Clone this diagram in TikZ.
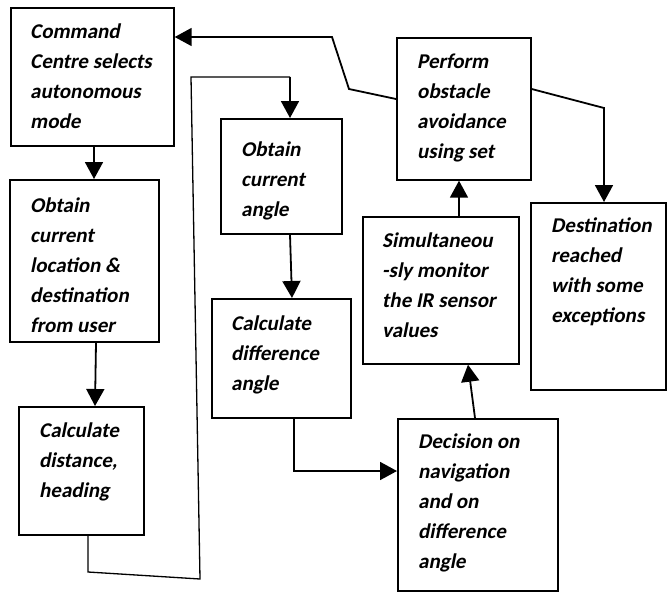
\documentclass[tikz,border=0pt]{standalone}
\usepackage{fontspec}
\setmainfont{Carlito}
\newfontfamily\boxfont{Carlito}[BoldFeatures={FakeSlant=0.2}]
\usetikzlibrary{arrows.meta,calc}
\begin{document}
\begin{tikzpicture}[x=1pt,y=-1pt,
  box/.style={draw, line width=1.7pt, anchor=north west, inner sep=0pt},
  txt/.style={anchor=north west, inner sep=0pt, align=left,
    font=\boxfont\bfseries\fontsize{21}{30}\selectfont},
  arr/.style={line width=1.8pt, -{Triangle[length=17pt,width=18pt]}},
  ln/.style={line width=1.8pt},
  thin/.style={line width=1.3pt}]
\useasboundingbox[fill=white] (0,0) rectangle (669,592);
% boxes
\node[box, minimum width=163pt, minimum height=138pt] (A) at (10,7) {};
\node[box, minimum width=149pt, minimum height=162pt] (B) at (9,179) {};
\node[box, minimum width=125pt, minimum height=128pt] (C) at (18,406) {};
\node[box, minimum width=121pt, minimum height=115pt] (D) at (220,118) {};
\node[box, minimum width=139pt, minimum height=119pt] (E) at (211,298) {};
\node[box, minimum width=160pt, minimum height=172pt] (F) at (397,418) {};
\node[box, minimum width=156pt, minimum height=147pt] (G) at (362,216) {};
\node[box, minimum width=134pt, minimum height=142pt] (H) at (396,37) {};
\node[box, minimum width=135pt, minimum height=187pt] (I) at (530,202) {};
% texts
\node[txt] (At) at ($(A.north west)+(20,15)$) {\rule{0pt}{16pt}Command\\Centre selects\\autonomous\\mode};
\node[txt] (Bt) at ($(B.north west)+(21,17)$) {\rule{0pt}{16pt}Obtain\\current\\location \&\\destination\\from user};
\node[txt] (Ct) at ($(C.north west)+(21,15)$) {\rule{0pt}{16pt}Calculate\\distance,\\heading};
\node[txt] (Dt) at ($(D.north west)+(21,22)$) {\rule{0pt}{16pt}Obtain\\current\\angle};
\node[txt] (Et) at ($(E.north west)+(20,16)$) {\rule{0pt}{16pt}Calculate\\difference\\angle};
\node[txt] (Ft) at ($(F.north west)+(21,14)$) {\rule{0pt}{16pt}Decision on\\navigation\\and on\\difference\\angle};
\node[txt] (Gt) at ($(G.north west)+(20,15)$) {\rule{0pt}{16pt}Simultaneou\\-sly monitor\\the IR sensor\\values};
\node[txt] (Ht) at ($(H.north west)+(21,15)$) {\rule{0pt}{16pt}Perform\\obstacle\\avoidance\\using set};
\node[txt] (It) at ($(I.north west)+(21,14)$) {\rule{0pt}{16pt}Destination\\reached\\with some\\exceptions};
% connectors
\coordinate (a1) at ($(A.south west)+(84,0)$);
\draw[arr] (a1) -- (a1 |- B.north);
\draw[arr] ($(B.south west)+(87,0)$) -- ($(C.north west)+(77,0)$);
\coordinate (c1) at ($(C.south west)+(70,0)$);
\coordinate (c2) at (88,572);
\coordinate (c3) at (200,579);
\coordinate (c4) at (191,77);
\coordinate (c5) at (290,77);
\draw[thin] (c1) -- (c2) -- (c3) -- (c4) -- (c5);
\draw[arr] (c5) -- (c5 |- D.north);
\draw[arr] ($(D.south west)+(70,0)$) -- ($(E.north west)+(81,0)$);
\coordinate (e1) at ($(E.south west)+(83,0)$);
\coordinate (f1) at ($(F.north west)+(0,53)$);
\draw[ln] (e1) -- (e1 |- f1);
\draw[arr] ($(e1 |- f1)+(-0.9,0)$) -- (f1);
\draw[arr] ($(F.north west)+(78,0)$) -- ($(G.south west)+(106,0)$);
\coordinate (g1) at ($(G.north west)+(97,0)$);
\draw[arr] (g1) -- (g1 |- H.south);
\coordinate (h1) at ($(H.north west)+(0,62)$);
\coordinate (h2) at (349,89);
\coordinate (h3) at (332,37);
\draw[ln] (h1) -- (h2) -- (h3) -- ($(A.north east)+(25,30)$);
\draw[arr] ($(A.north east)+(26,30)$) -- ($(A.north east)+(0,30)$);
\coordinate (h4) at ($(H.north east)+(0,52)$);
\coordinate (h5) at (604,108);
\draw[ln] (h4) -- (h5);
\draw[arr] ($(h5)+(0,-0.9)$) -- (h5 |- I.north);
\end{tikzpicture}
\end{document}
